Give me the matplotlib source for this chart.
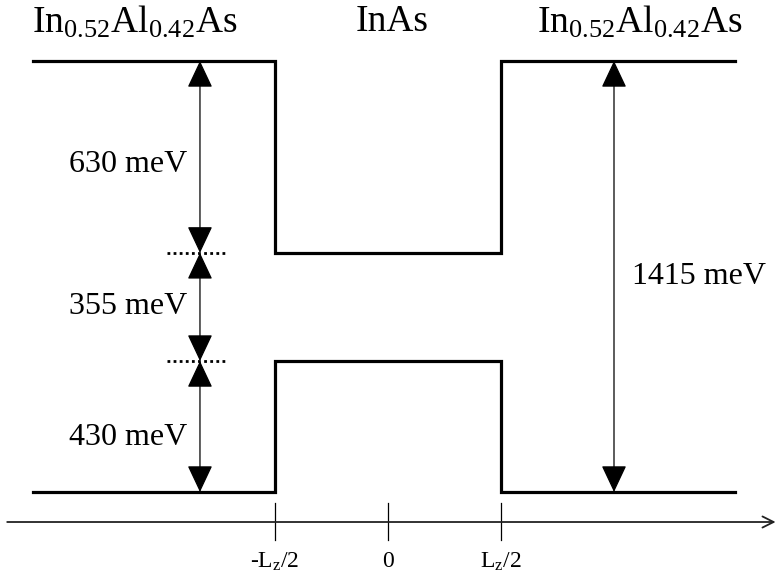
import matplotlib
matplotlib.use("Agg")
import matplotlib.pyplot as plt
from matplotlib.patches import FancyArrowPatch

plt.rcParams['font.family'] = ['Liberation Serif', 'DejaVu Serif']
plt.rcParams['mathtext.fontset'] = 'custom'
plt.rcParams['mathtext.rm'] = 'Liberation Serif'
plt.rcParams['mathtext.it'] = 'Liberation Serif:italic'

# Data (energies in meV, positions in units of Lz/2)
valence_barrier = 0
valence_well = 430
conduction_well = 785
conduction_barrier = 1415
gap_labels = ["630 meV", "355 meV", "430 meV"]
total_label = "1415 meV"
tick_positions = [-1, 0, 1]
tick_labels = [r"-L$_{\mathrm{z}}$/2", "0", r"L$_{\mathrm{z}}$/2"]
region_labels = [r"In$_{\mathrm{0.52}}$Al$_{\mathrm{0.42}}$As", "InAs",
                 r"In$_{\mathrm{0.52}}$Al$_{\mathrm{0.42}}$As"]
x_left, x_right = -3.14, 3.07

fig = plt.figure(figsize=(7.76, 5.82), dpi=100)
ax = fig.add_axes([0, 0, 1, 1])
ax.set_xlim(-388 / 113, 388 / 113)
ax.set_ylim(-90 / 0.3046, 492 / 0.3046)
ax.axis('off')

lw = 2.3
# Conduction band
ax.plot([x_left, -1, -1, 1, 1, x_right],
        [conduction_barrier, conduction_barrier, conduction_well, conduction_well,
         conduction_barrier, conduction_barrier], color='black', lw=lw,
        solid_joinstyle='miter')
# Valence band
ax.plot([x_left, -1, -1, 1, 1, x_right],
        [valence_barrier, valence_barrier, valence_well, valence_well,
         valence_barrier, valence_barrier], color='black', lw=lw,
        solid_joinstyle='miter')

# Dotted extension lines
for e in [conduction_well, valence_well]:
    ax.plot([-1.956, -1.416], [e, e], color='black', lw=2, linestyle=(0, (1, 1.2)))


def darrow(x, y0, y1):
    p = FancyArrowPatch((x, y0), (x, y1),
                        arrowstyle='<|-|>,head_length=17,head_width=8',
                        mutation_scale=1, shrinkA=0, shrinkB=0,
                        color='black', lw=0.9)
    ax.add_patch(p)


xa = -1.664
darrow(xa, conduction_well, conduction_barrier)
darrow(xa, valence_well, conduction_well)
darrow(xa, valence_barrier, valence_well)
darrow(2.0, valence_barrier, conduction_barrier)

fs = 23
ax.text(-1.779, (conduction_well + conduction_barrier) / 2 - 25, gap_labels[0],
        ha='right', va='center', fontsize=fs)
ax.text(-1.779, (valence_well + conduction_well) / 2, gap_labels[1],
        ha='right', va='center', fontsize=fs)
ax.text(-1.779, 180, gap_labels[2], ha='right', va='center', fontsize=fs)
ax.text(2.16, 706, total_label, ha='left', va='center', fontsize=fs)

for xc, lab in zip([-2.24, 0.04, 2.23], region_labels):
    ax.text(xc, 1543, lab, ha='center', va='center', fontsize=27)

# x axis
y_axis = -98.5
ax.annotate('', xy=(3.43, y_axis), xytext=(-3.37, y_axis),
            annotation_clip=False,
            arrowprops=dict(arrowstyle='->,head_length=0.8,head_width=0.4',
                            color='#222222', lw=1.3, shrinkA=0, shrinkB=0))
for xt, lab in zip(tick_positions, tick_labels):
    ax.plot([xt, xt], [-36, -157], color='black', lw=0.9)
    ax.text(xt, -228, lab, ha='center', va='center', fontsize=17)

fig.savefig('out.png', dpi=100)
